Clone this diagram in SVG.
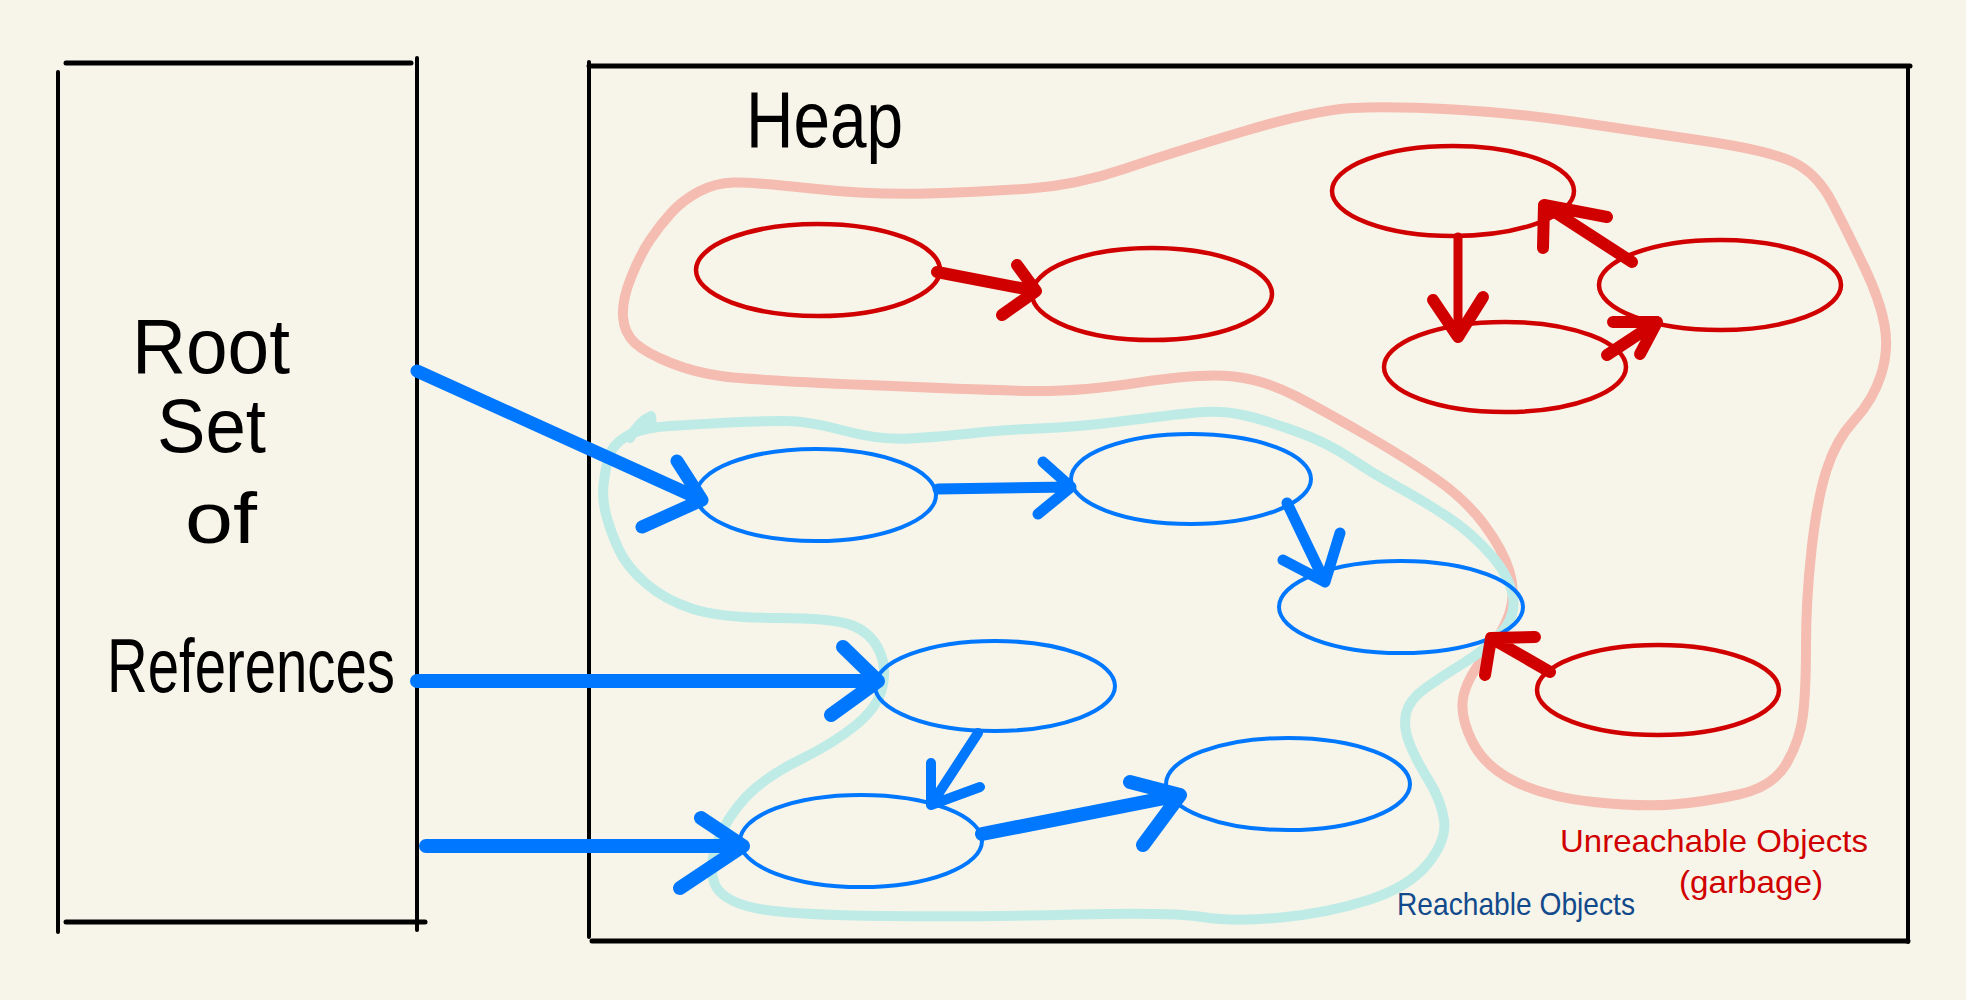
<svg xmlns="http://www.w3.org/2000/svg" width="1966" height="1000" viewBox="0 0 1966 1000">
<style>
.frame{stroke:#000;fill:none;stroke-linecap:round}
.blob{fill:none;stroke-width:10;stroke-linejoin:round;stroke-linecap:round}
.pink{stroke:#f5bcb1}
.cyan{stroke:#bfebe6}
.bn{fill:none;stroke:#0077ff;stroke-width:4}
.rn{fill:none;stroke:#d10000;stroke-width:4.5}
.ba{fill:none;stroke:#0077ff;stroke-linecap:round;stroke-linejoin:round}
.ra{fill:none;stroke:#d10000;stroke-linecap:round;stroke-linejoin:round}
.hand{font-family:"Liberation Sans",Arial,sans-serif;fill:#000}
</style>
<rect width="1966" height="1000" fill="#f7f5e9"/>

<g id="root-set-box">
<path class="frame" stroke-width="5" d="M66,63 L411,63"/>
<path class="frame" stroke-width="4" d="M58,72 L58,932"/>
<path class="frame" stroke-width="4" d="M417,58 L417,930"/>
<path class="frame" stroke-width="5" d="M66,922 L425,922"/>
<text class="hand" x="132" y="373" font-size="78" textLength="158" lengthAdjust="spacingAndGlyphs">Root</text>
<text class="hand" x="157" y="452" font-size="76" textLength="109" lengthAdjust="spacingAndGlyphs">Set</text>
<text class="hand" x="185" y="543" font-size="72" textLength="72" lengthAdjust="spacingAndGlyphs">of</text>
<text class="hand" x="107" y="692" font-size="76" textLength="288" lengthAdjust="spacingAndGlyphs">References</text>
</g>

<g id="heap-box">
<path class="frame" stroke-width="4" d="M589,62 L589,937"/>
<path class="frame" stroke-width="5" d="M589,66 L1910,66"/>
<path class="frame" stroke-width="4" d="M1908,66 L1908,942"/>
<path class="frame" stroke-width="5" d="M592,941 L1908,941"/>
<text class="hand" x="746" y="147" font-size="80" textLength="157" lengthAdjust="spacingAndGlyphs">Heap</text>
</g>

<g id="unreachable-region">
<path class="blob pink" d="M671.5,212.5 Q683,200 699,191.5 Q715,183 733.5,182.5 Q752,182 811.5,188.5 Q871,195 927,193.5 Q983,192 1030,188.5 Q1077,185 1124,169 Q1171,153 1243,131.5 Q1315,110 1353,108 Q1391,106 1453.5,109.5 Q1516,113 1572.5,121.5 Q1629,130 1698,140 Q1767,150 1792,161.5 Q1817,173 1832.5,203 Q1848,233 1864,266.5 Q1880,300 1884.5,325 Q1889,350 1881,375 Q1873,400 1854.5,420 Q1836,440 1826.5,470 Q1817,500 1811.5,550 Q1806,600 1806,645 Q1806,690 1803,715 Q1800,740 1786.5,763.5 Q1773,787 1738.5,794.5 Q1704,802 1672.5,804.5 Q1641,807 1594,802 Q1547,797 1516,782 Q1485,767 1472.5,742 Q1460,717 1463,698.5 Q1466,680 1484.5,656.5 Q1503,633 1509.5,613 Q1516,593 1509.5,571.5 Q1503,550 1484.5,525 Q1466,500 1437.5,480 Q1409,460 1368.5,436.5 Q1328,413 1296.5,396.5 Q1265,380 1233.5,376.5 Q1202,373 1139.5,382.5 Q1077,392 1030,391 Q983,390 867.5,385 Q752,380 724,376.5 Q696,373 671,363 Q646,353 635,343 Q624,333 623,316.5 Q622,300 631,277.5 Q640,255 650,240 Q660,225 671.5,212.5 Z"/>
<text x="1560" y="852" font-family="Liberation Sans, Arial, sans-serif" font-size="32" fill="#d10000" textLength="308" lengthAdjust="spacingAndGlyphs">Unreachable Objects</text>
<text x="1679" y="893" font-family="Liberation Sans, Arial, sans-serif" font-size="32" fill="#d10000" textLength="144" lengthAdjust="spacingAndGlyphs">(garbage)</text>
</g>

<g id="reachable-region">
<path class="blob cyan" d="M608.5,457.5 Q612,445 626,436.5 Q640,428 670,426 Q700,424 730,422.5 Q760,421 784.5,421 Q809,421 843.5,430.5 Q878,440 909,438.5 Q940,437 970,433.5 Q1000,430 1038.5,428.5 Q1077,427 1124,421 Q1171,415 1196,412.5 Q1221,410 1243,415 Q1265,420 1296.5,431.5 Q1328,443 1350,458 Q1372,473 1397,486.5 Q1422,500 1447,516.5 Q1472,533 1491,555 Q1510,577 1513,597 Q1516,617 1500.5,633.5 Q1485,650 1463,663.5 Q1441,677 1425,688.5 Q1409,700 1406,713.5 Q1403,727 1409.5,743.5 Q1416,760 1428.5,780 Q1441,800 1444,820 Q1447,840 1428,863.5 Q1409,887 1368.5,900 Q1328,913 1281,917.5 Q1234,922 1202.5,917 Q1171,912 1077,914.5 Q983,917 883.5,916 Q784,915 752.5,907.5 Q721,900 714.5,883.5 Q708,867 717.5,842 Q727,817 746,797 Q765,777 799.5,760 Q834,743 856,725 Q878,707 882.5,687 Q887,667 879,650 Q871,633 852.5,625.5 Q834,618 777.5,618 Q721,618 693,609 Q665,600 646,583.5 Q627,567 619,550 Q611,533 606.5,516.5 Q602,500 603.5,485 Q605,470 608.5,457.5 Z"/>
<path class="blob cyan" stroke-width="7" d="M630,438 Q638,422 651,416 L652,428"/>
<text x="1397" y="915" font-family="Liberation Sans, Arial, sans-serif" font-size="32" fill="#124a8c" textLength="238" lengthAdjust="spacingAndGlyphs">Reachable Objects</text>
</g>

<g id="obj-b1"><ellipse class="bn" cx="816" cy="495" rx="120" ry="46"/></g>
<g id="obj-b2"><ellipse class="bn" cx="1191" cy="479" rx="120" ry="45"/></g>
<g id="obj-b3"><ellipse class="bn" cx="1401" cy="607" rx="122" ry="46"/></g>
<g id="obj-b4"><ellipse class="bn" cx="995" cy="686" rx="120" ry="45"/></g>
<g id="obj-b5"><ellipse class="bn" cx="861" cy="841" rx="121" ry="46"/></g>
<g id="obj-b6"><ellipse class="bn" cx="1288" cy="784" rx="122" ry="46"/></g>

<g id="obj-r1"><ellipse class="rn" cx="818" cy="270" rx="122" ry="46"/></g>
<g id="obj-r2"><ellipse class="rn" cx="1152" cy="294" rx="120" ry="46"/></g>
<g id="obj-r3"><ellipse class="rn" cx="1453" cy="191" rx="121" ry="45"/></g>
<g id="obj-r4"><ellipse class="rn" cx="1720" cy="285" rx="121" ry="45"/></g>
<g id="obj-r5"><ellipse class="rn" cx="1505" cy="367" rx="121" ry="45"/></g>
<g id="obj-r6"><ellipse class="rn" cx="1658" cy="690" rx="121" ry="45"/></g>

<g id="connectors">
<path class="ba" stroke-width="13" d="M417,371 L702,500 M677,461 L702,500 L642,527"/>
<path class="ba" stroke-width="14" d="M417,681 L878,681 M843,647 L878,681 L831,715"/>
<path class="ba" stroke-width="14" d="M426,846 L743,846 M701,818 L743,846 L680,888"/>
<path class="ba" stroke-width="11" d="M938,489 L1071,487 M1043,462 L1071,487 L1038,514"/>
<path class="ba" stroke-width="11" d="M1287,503 L1325,582 M1283,560 L1325,582 L1340,533"/>
<path class="ba" stroke-width="10" d="M978,733 L931,805 M931,763 L931,805 L980,787"/>
<path class="ba" stroke-width="14" d="M982,834 L1180,795 M1130,782 L1180,795 L1143,845"/>
<path class="ra" stroke-width="12" d="M937,272 L1036,291 M1017,265 L1036,291 L1002,315"/>
<path class="ra" stroke-width="9" d="M1458,237 L1458,337"/>
<path class="ra" stroke-width="12" d="M1433,300 L1458,337 L1483,297"/>
<path class="ra" stroke-width="12" d="M1632,262 L1544,205 M1543,248 L1544,205 L1607,217"/>
<path class="ra" stroke-width="12" d="M1607,355 L1657,322 M1613,322 L1657,322 L1640,354"/>
<path class="ra" stroke-width="12" d="M1550,672 L1491,638 M1535,637 L1491,638 L1485,675"/>
</g>
</svg>
